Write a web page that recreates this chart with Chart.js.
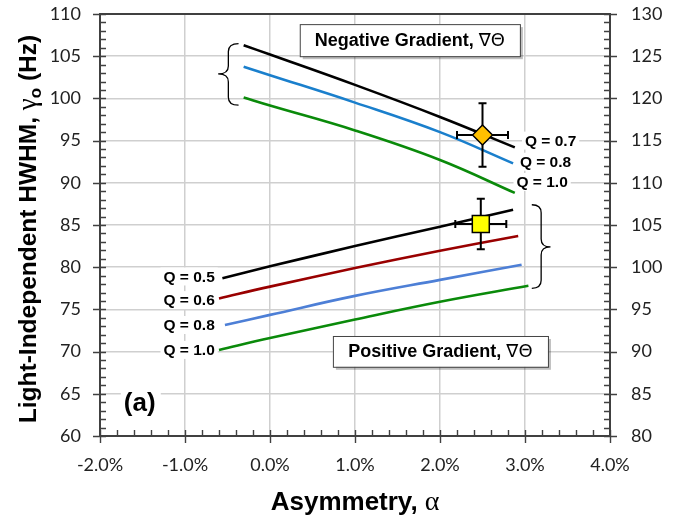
<!DOCTYPE html>
<html>
<head>
<meta charset="utf-8">
<script src="https://cdn.jsdelivr.net/npm/chart.js@4/dist/chart.umd.min.js"></script>
<style>
  html, body { margin: 0; padding: 0; background: #fff; }
</style>
</head>
<body>
<canvas id="chart" width="681" height="519"></canvas>
<script>
// asymmetry (%) vs light-independent HWHM (Hz, left axis)
// negative gradient curves
const negQ07X = [-0.31, 0, 1, 2, 2.88];
const negQ07Y = [106.3, 105.2, 101.6, 97.8, 94.2];
const negQ08X = [-0.31, 0, 1, 2, 2.86];
const negQ08Y = [103.75, 102.75, 99.5, 96.0, 92.3];
const negQ10X = [-0.31, 0, 1, 2, 2.88];
const negQ10Y = [100.1, 99.15, 96.2, 92.7, 88.8];
// positive gradient curves
const posQ05X = [-0.56, 0, 1, 2, 2.86];
const posQ05Y = [78.7, 80.1, 82.5, 84.8, 86.8];
const posQ06X = [-0.6, 0, 1, 2, 2.92];
const posQ06Y = [76.3, 77.7, 79.9, 81.95, 83.7];
const posQ08X = [-0.53, 0, 1, 2, 2.96];
const posQ08Y = [73.15, 74.35, 76.6, 78.5, 80.3];
const posQ10X = [-0.6, 0, 1, 2, 3.04];
const posQ10Y = [70.2, 71.6, 73.8, 75.9, 77.8];
// measured points with error bars
const measLabels = ['Negative', 'Positive'];
const measX = [2.50, 2.48];
const measY = [95.66, 85.12];
const measErrX = [0.30, 0.30];
const measErrY = [3.76, 3.0];

const xTicks = [-2, -1, 0, 1, 2, 3, 4];
const yLeftRange = [60, 110];
const yRightRange = [80, 130];

const pts = (xs, ys) => xs.map((x, i) => ({ x, y: ys[i] }));

function curve(label, xs, ys, color) {
  return {
    label, data: pts(xs, ys), showLine: true, borderColor: color,
    borderWidth: 2.6, pointRadius: 0, tension: 0.4, fill: false
  };
}

const datasets = [
  { label: measLabels[0], data: [{ x: measX[0], y: measY[0] }], pointStyle: 'rectRot', pointRadius: 10,
    backgroundColor: '#FFC000', borderColor: '#000', borderWidth: 1.5, marker: true },
  { label: measLabels[1], data: [{ x: measX[1], y: measY[1] }], pointStyle: 'rect', pointRadius: 12,
    backgroundColor: '#FFFF00', borderColor: '#000', borderWidth: 1.5, marker: true },
  curve('Neg Q = 0.7', negQ07X, negQ07Y, '#000000'),
  curve('Neg Q = 0.8', negQ08X, negQ08Y, '#1a7fcc'),
  curve('Neg Q = 1.0', negQ10X, negQ10Y, '#0a8a0a'),
  curve('Pos Q = 0.5', posQ05X, posQ05Y, '#000000'),
  curve('Pos Q = 0.6', posQ06X, posQ06Y, '#990000'),
  curve('Pos Q = 0.8', posQ08X, posQ08Y, '#4d7fd6'),
  curve('Pos Q = 1.0', posQ10X, posQ10Y, '#0a8a0a')
];

const AXIS = '#404040';
const tickFont = { family: 'Lato', size: 18 };

const labelsQ = [
  { text: 'Q = 0.7', x: 3.0, y: 95.0, align: 'left' },
  { text: 'Q = 0.8', x: 2.94, y: 92.5, align: 'left' },
  { text: 'Q = 1.0', x: 2.9, y: 90.1, align: 'left' },
  { text: 'Q = 0.5', x: -0.65, y: 78.9, align: 'right' },
  { text: 'Q = 0.6', x: -0.65, y: 76.1, align: 'right' },
  { text: 'Q = 0.8', x: -0.65, y: 73.15, align: 'right' },
  { text: 'Q = 1.0', x: -0.65, y: 70.2, align: 'right' }
];

function drawBrace(ctx, xOut, xTip, yTop, yBot, yTip) {
  const xm = (xOut + xTip) / 2;
  const r = Math.min(8, Math.abs(yBot - yTop) / 6);
  ctx.beginPath();
  ctx.moveTo(xOut, yTop);
  ctx.quadraticCurveTo(xm, yTop, xm, yTop + r);
  ctx.lineTo(xm, yTip - r);
  ctx.quadraticCurveTo(xm, yTip, xTip, yTip);
  ctx.quadraticCurveTo(xm, yTip, xm, yTip + r);
  ctx.lineTo(xm, yBot - r);
  ctx.quadraticCurveTo(xm, yBot, xOut, yBot);
  ctx.stroke();
}

function textBox(ctx, sx, sy, ex, ey, parts) {
  ctx.save();
  ctx.fillStyle = 'rgba(0,0,0,0.25)';
  ctx.fillRect(sx + 3, sy + 3, ex - sx, ey - sy);
  ctx.fillStyle = '#fff';
  ctx.fillRect(sx, sy, ex - sx, ey - sy);
  ctx.strokeStyle = '#444';
  ctx.lineWidth = 1;
  ctx.strokeRect(sx + 0.5, sy + 0.5, ex - sx, ey - sy);
  let w = 0;
  parts.forEach(p => { ctx.font = p.font; w += ctx.measureText(p.t).width; });
  let cx = (sx + ex) / 2 - w / 2;
  ctx.fillStyle = '#000';
  ctx.textBaseline = 'middle';
  ctx.textAlign = 'left';
  parts.forEach(p => { ctx.font = p.font; ctx.fillText(p.t, cx, (sy + ey) / 2 + 1); cx += ctx.measureText(p.t).width; });
  ctx.restore();
}

const decor = {
  id: 'decor',
  beforeDatasetsDraw(chart) {
    const ctx = chart.ctx, sx = chart.scales.x, sy = chart.scales.y;
    this.errDone = false;
    ctx.save();
    ctx.font = 'bold 15.5px "Liberation Sans"';
    ctx.textBaseline = 'middle';
    labelsQ.forEach(l => {
      const px = sx.getPixelForValue(l.x), py = sy.getPixelForValue(l.y);
      const w = ctx.measureText(l.text).width;
      const left = l.align === 'left' ? px : px - w;
      ctx.fillStyle = '#fff';
      ctx.fillRect(left - 3, py - 9, w + 6, 18);
      ctx.fillStyle = '#000';
      ctx.textAlign = l.align;
      ctx.fillText(l.text, px, py + 1);
    });
    ctx.font = 'bold 26px "Liberation Sans"';
    ctx.textAlign = 'left';
    ctx.fillStyle = '#fff';
    ctx.fillRect(sx.getPixelForValue(-1.72) - 3, sy.getPixelForValue(63.9) - 14, 40, 28);
    ctx.fillStyle = '#000';
    ctx.fillText('(a)', sx.getPixelForValue(-1.72), sy.getPixelForValue(63.9) + 1);
    ctx.restore();
  },
  beforeDatasetDraw(chart, args) {
    const ds = chart.data.datasets[args.index];
    if (!ds.marker || this.errDone) return;
    this.errDone = true;
    const ctx = chart.ctx, sx = chart.scales.x, sy = chart.scales.y;
    ctx.save();
    ctx.strokeStyle = '#000';
    ctx.lineWidth = 2;
    measX.forEach((x, i) => {
      const y = measY[i];
      const x0 = sx.getPixelForValue(x - measErrX[i]), x1 = sx.getPixelForValue(x + measErrX[i]);
      const y0 = sy.getPixelForValue(y + measErrY[i]), y1 = sy.getPixelForValue(y - measErrY[i]);
      const px = sx.getPixelForValue(x), py = sy.getPixelForValue(y);
      const c = 4;
      ctx.beginPath();
      ctx.moveTo(px, y0); ctx.lineTo(px, y1);
      ctx.moveTo(px - c, y0); ctx.lineTo(px + c, y0);
      ctx.moveTo(px - c, y1); ctx.lineTo(px + c, y1);
      ctx.moveTo(x0, py); ctx.lineTo(x1, py);
      ctx.moveTo(x0, py - c); ctx.lineTo(x0, py + c);
      ctx.moveTo(x1, py - c); ctx.lineTo(x1, py + c);
      ctx.stroke();
    });
    ctx.restore();
  },
  afterDraw(chart) {
    const ctx = chart.ctx, sx = chart.scales.x, sy = chart.scales.y, sy2 = chart.scales.y2;
    const { left, right, top, bottom } = chart.chartArea;
    ctx.save();
    // frame and ticks
    ctx.strokeStyle = AXIS;
    ctx.lineWidth = 2;
    ctx.strokeRect(left, top, right - left, bottom - top);
    ctx.lineWidth = 1.4;
    ctx.beginPath();
    for (let v = yLeftRange[0]; v <= yLeftRange[1]; v++) {
      const p = Math.round(sy.getPixelForValue(v)) + 0.5;
      ctx.moveTo(v % 5 === 0 ? left - 7 : left, p); ctx.lineTo(left + 6, p);
    }
    for (let v = yRightRange[0]; v <= yRightRange[1]; v++) {
      const p = Math.round(sy2.getPixelForValue(v)) + 0.5;
      ctx.moveTo(v % 5 === 0 ? right + 7 : right, p); ctx.lineTo(right - 6, p);
    }
    for (let i = xTicks[0] * 5; i <= xTicks[xTicks.length - 1] * 5; i++) {
      const p = Math.round(sx.getPixelForValue(i / 5)) + 0.5;
      ctx.moveTo(p, i % 5 === 0 ? bottom + 7 : bottom); ctx.lineTo(p, bottom - 6);
    }
    ctx.stroke();

    // braces
    ctx.strokeStyle = '#000';
    ctx.lineWidth = 1.3;
    drawBrace(ctx, sx.getPixelForValue(-0.37), sx.getPixelForValue(-0.61),
      sy.getPixelForValue(106.5), sy.getPixelForValue(99.2), sy.getPixelForValue(102.9));
    drawBrace(ctx, sx.getPixelForValue(3.08), sx.getPixelForValue(3.30),
      sy.getPixelForValue(87.4), sy.getPixelForValue(77.5), sy.getPixelForValue(82.4));

    // annotation boxes
    const bold = 'bold 18px "Liberation Sans"', sym = '18px "DejaVu Sans"';
    textBox(ctx, sx.getPixelForValue(0.35), sy.getPixelForValue(108.8), sx.getPixelForValue(2.94), sy.getPixelForValue(105.0),
      [{ t: 'Negative Gradient, ', font: bold }, { t: '∇Θ', font: sym }]);
    textBox(ctx, sx.getPixelForValue(0.74), sy.getPixelForValue(71.85), sx.getPixelForValue(3.27), sy.getPixelForValue(68.2),
      [{ t: 'Positive Gradient, ', font: bold }, { t: '∇Θ', font: sym }]);

    // axis titles
    ctx.fillStyle = '#000';
    ctx.textBaseline = 'alphabetic';
    ctx.textAlign = 'left';
    const xt = [{ t: 'Asymmetry,', f: 'bold 26px "Liberation Sans"' }, { t: ' α', f: '28px "Liberation Serif"' }];
    let w = 0;
    xt.forEach(p => { ctx.font = p.f; w += ctx.measureText(p.t).width; });
    let cx = (left + right) / 2 - w / 2;
    xt.forEach(p => { ctx.font = p.f; ctx.fillText(p.t, cx, 510); cx += ctx.measureText(p.t).width; });

    ctx.translate(36, 229);
    ctx.rotate(-Math.PI / 2);
    const yt = [
      { t: 'Light-Independent HWHM, ', f: 'bold 24.5px "Liberation Sans"', dy: 0 },
      { t: 'γ', f: '27px "Liberation Serif"', dy: 0 },
      { t: 'o', f: 'bold 17px "Liberation Sans"', dy: 5 },
      { t: ' (Hz)', f: 'bold 24.5px "Liberation Sans"', dy: 0 }
    ];
    w = 0;
    yt.forEach(p => { ctx.font = p.f; w += ctx.measureText(p.t).width; });
    cx = -w / 2;
    yt.forEach(p => { ctx.font = p.f; ctx.fillText(p.t, cx, p.dy); cx += ctx.measureText(p.t).width; });
    ctx.restore();
  }
};

new Chart(document.getElementById('chart'), {
  type: 'scatter',
  data: { datasets },
  options: {
    responsive: false,
    animation: false,
    layout: { padding: { top: 14, left: 0, right: 0, bottom: 0 } },
    plugins: { legend: { display: false }, tooltip: { enabled: false } },
    scales: {
      x: {
        type: 'linear', min: xTicks[0], max: xTicks[xTicks.length - 1],
        afterBuildTicks: s => { s.ticks = xTicks.map(v => ({ value: v })); },
        afterFit: s => { s.height = 83; s.paddingLeft = 0; s.paddingRight = 0; },
        grid: { color: '#cfcfcf', lineWidth: 1.5, drawTicks: false },
        border: { display: false },
        ticks: { font: tickFont, color: '#222', padding: 18, callback: v => v.toFixed(1) + '%' }
      },
      y: {
        position: 'left', min: yLeftRange[0], max: yLeftRange[1],
        afterFit: s => { s.width = 100; s.paddingTop = 0; s.paddingBottom = 0; },
        grid: { color: '#cfcfcf', lineWidth: 1.5, drawTicks: false },
        border: { display: false },
        ticks: { stepSize: 5, font: tickFont, color: '#222', padding: 19 }
      },
      y2: {
        position: 'right', min: yRightRange[0], max: yRightRange[1],
        afterFit: s => { s.width = 71; s.paddingTop = 0; s.paddingBottom = 0; },
        grid: { drawOnChartArea: false, drawTicks: false },
        border: { display: false },
        ticks: { stepSize: 5, font: tickFont, color: '#222', padding: 21 }
      }
    }
  },
  plugins: [decor]
});
</script>
</body>
</html>
